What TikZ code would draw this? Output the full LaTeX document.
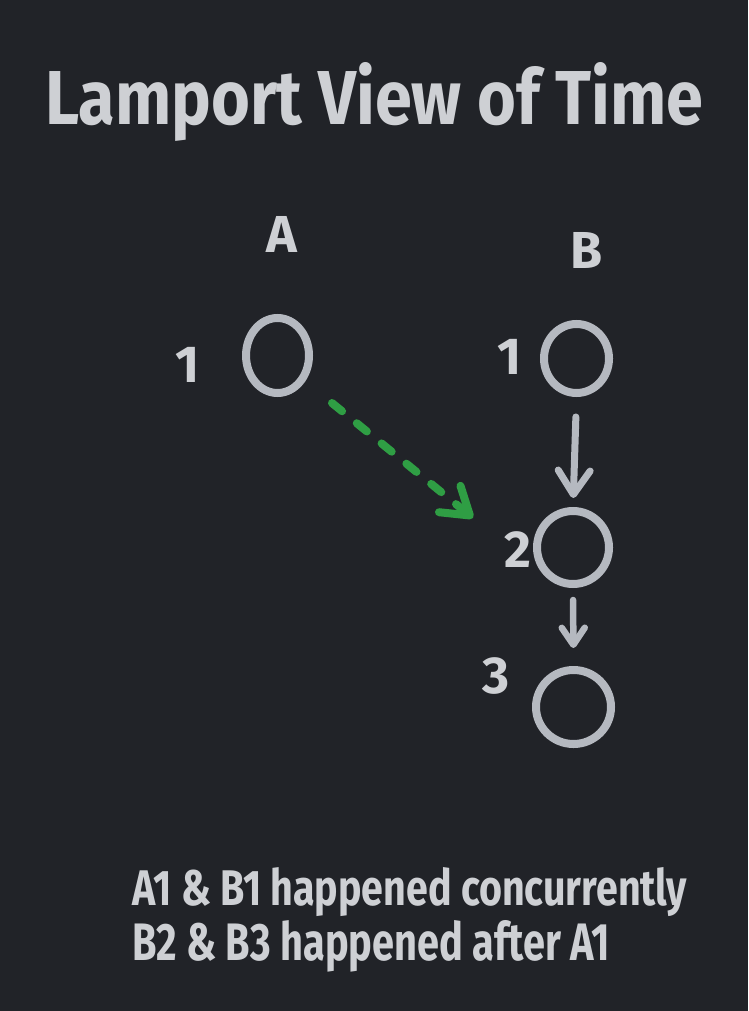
\documentclass[tikz,border=0pt]{standalone}
\usepackage{fontspec}
\setmainfont{Fira Sans}
\usetikzlibrary{arrows.meta,shapes.geometric}
\definecolor{bg}{HTML}{212328}
\definecolor{txt}{HTML}{CED0D4}
\definecolor{ring}{HTML}{B5B9C0}
\definecolor{grn}{HTML}{2F9E44}
\begin{document}
\begin{tikzpicture}[x=1pt,y=-1pt,
  event/.style={draw=ring, line width=8pt, ellipse, inner sep=0pt},
  lbl/.style={text=txt, inner sep=0pt, anchor=base, font=\fontsize{52}{52}\selectfont\bfseries},
  heading/.style={text=txt, inner sep=0pt, anchor=base west},
  flowbig/.style={draw=ring, line width=7pt, line cap=round, line join=round,
    -{Straight Barb[length=24pt,width=32pt,round]}},
  flowsmall/.style={draw=ring, line width=6.5pt, line cap=round, line join=round,
    -{Straight Barb[length=17pt,width=23pt,round]}},
  msg/.style={draw=grn, line width=8pt, line cap=round, line join=round,
    dash pattern=on 13pt off 19pt,
    -{Straight Barb[length=26pt,width=34pt,round]}}]
\fill[bg] (0,0) rectangle (748,1011);

\node[heading] (title) at (45,125) {\resizebox{658pt}{62pt}{\bfseries Lamport View of Time}};

\node[lbl] (la) at (282,252) {A};
\node[lbl] (lb) at (587,268) {B};

\node[event, minimum width=63pt, minimum height=75pt] (a1) at (277.5,355.5) {};
\node[event, minimum width=65pt, minimum height=69pt] (b1) at (576.5,358.5) {};
\node[event, minimum width=72pt, minimum height=73pt] (b2) at (573,547.5) {};
\node[event, minimum width=75pt, minimum height=74pt] (b3) at (573.5,707) {};

\node[lbl] (n1a) at (188,382) {1};
\node[lbl] (n1b) at (510,374) {1};
\node[lbl] (n2) at (518,567) {2};
\node[lbl] (n3) at (496,693) {3};

\draw[flowbig, shorten <=20pt, shorten >=9pt] (b1.south) -- (b2.north);
\draw[flowsmall, shorten <=12pt, shorten >=18pt] (b2.south) -- (b3.north);

\coordinate (gs) at (332,403);
\coordinate (ge) at (473,518);
\draw[msg] (gs) -- (ge);

\node[heading] (note1) at (132,905) {\resizebox{555pt}{38pt}{\bfseries A1 \& B1 happened concurrently}};
\node[heading] (note2) at (132,960) {\resizebox{478pt}{40pt}{\bfseries B2 \& B3 happened after A1}};
\end{tikzpicture}
\end{document}
